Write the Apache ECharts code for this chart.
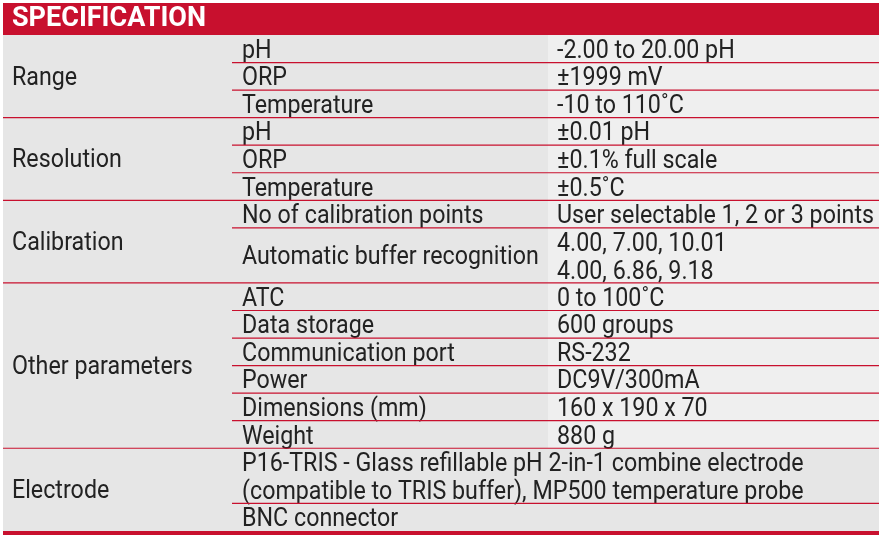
<!DOCTYPE html>
<html><head><meta charset="utf-8">
<script src="https://cdn.jsdelivr.net/npm/echarts@6/dist/echarts.min.js"></script>
<style>html,body{margin:0;background:#fff}#c{width:884px;height:539px}</style>
</head><body><div id="c"></div>
<script>
const title = "SPECIFICATION";
const groups = ["Range", "Resolution", "Calibration", "Other parameters", "Electrode"];
const groupRows = [
  [["pH", "-2.00 to 20.00 pH", 1], ["ORP", "±1999 mV", 1], ["Temperature", "-10 to 110˚C", 1]],
  [["pH", "±0.01 pH", 1], ["ORP", "±0.1% full scale", 1], ["Temperature", "±0.5˚C", 1]],
  [["No of calibration points", "User selectable 1, 2 or 3 points", 1],
   ["Automatic buffer recognition", "4.00, 7.00, 10.01\n4.00, 6.86, 9.18", 2]],
  [["ATC", "0 to 100˚C", 1], ["Data storage", "600 groups", 1], ["Communication port", "RS-232", 1],
   ["Power", "DC9V/300mA", 1], ["Dimensions (mm)", "160 x 190 x 70", 1], ["Weight", "880 g", 1]],
  [["P16-TRIS - Glass refillable pH 2-in-1 combine electrode\n(compatible to TRIS buffer), MP500 temperature probe", "", 2],
   ["BNC connector", "", 1]]
];
// groups whose right column is shaded lighter
const lightRight = [true, true, true, true, false];

const RED = "#c8102e", FONT = "Roboto, sans-serif", FS = "25px ";
const SX = 0.93;
const L = 3, R = 879, top0 = 35, rowH = 27.55, c1 = 232, c2 = 548;
const g = [];
g.push({type: "rect", shape: {x: L, y: 3, width: R - L, height: top0 - 3}, style: {fill: RED}});
g.push({type: "text", x: 12, y: 19, style: {text: title, fill: "#fff", font: "bold 27px " + FONT, verticalAlign: "middle"}});
let y = top0;
const txt = (x, yy, text, va) => ({type: "text", x: x, y: yy, scaleX: SX,
  style: {text: text, fill: "#222", font: FS + FONT, verticalAlign: va, lineHeight: 28}});
groups.forEach((name, gi) => {
  const rows = groupRows[gi];
  const gh = rows.reduce((s, r) => s + r[2], 0) * rowH;
  g.push({type: "rect", shape: {x: L, y: y, width: R - L, height: gh}, style: {fill: "#e6e6e6"}, z: -1});
  if (lightRight[gi])
    g.push({type: "rect", shape: {x: c2, y: y, width: R - c2, height: gh}, style: {fill: "#efefef"}, z: -1});
  g.push(txt(12, y + gh / 2 + 2, name, "middle"));
  let ry = y;
  rows.forEach((r, ri) => {
    const h = r[2] * rowH;
    if (r[2] > 1) {
      if (r[1]) g.push(txt(242, ry + h / 2 + 2, r[0], "middle"));
      else g.push(txt(242, ry + h / 2 + 3, r[0], "middle"));
      if (r[1]) g.push(txt(557, ry + h / 2 + 3, r[1], "middle"));
    } else {
      g.push(txt(242, ry + h + 3, r[0], "bottom"));
      if (r[1]) g.push(txt(557, ry + h + 3, r[1], "bottom"));
    }
    ry += h;
    if (ri < rows.length - 1)
      g.push({type: "line", shape: {x1: c1, y1: ry, x2: R, y2: ry}, style: {stroke: RED, lineWidth: 1.2}});
  });
  y += gh;
  if (gi < groups.length - 1)
    g.push({type: "line", shape: {x1: L, y1: y, x2: R, y2: y}, style: {stroke: RED, lineWidth: 1.2}});
});
g.push({type: "rect", shape: {x: L, y: y, width: R - L, height: 4}, style: {fill: RED}});

const chart = echarts.init(document.getElementById("c"), null, {renderer: "canvas"});
chart.setOption({animation: false, graphic: {elements: g}});
</script></body></html>
